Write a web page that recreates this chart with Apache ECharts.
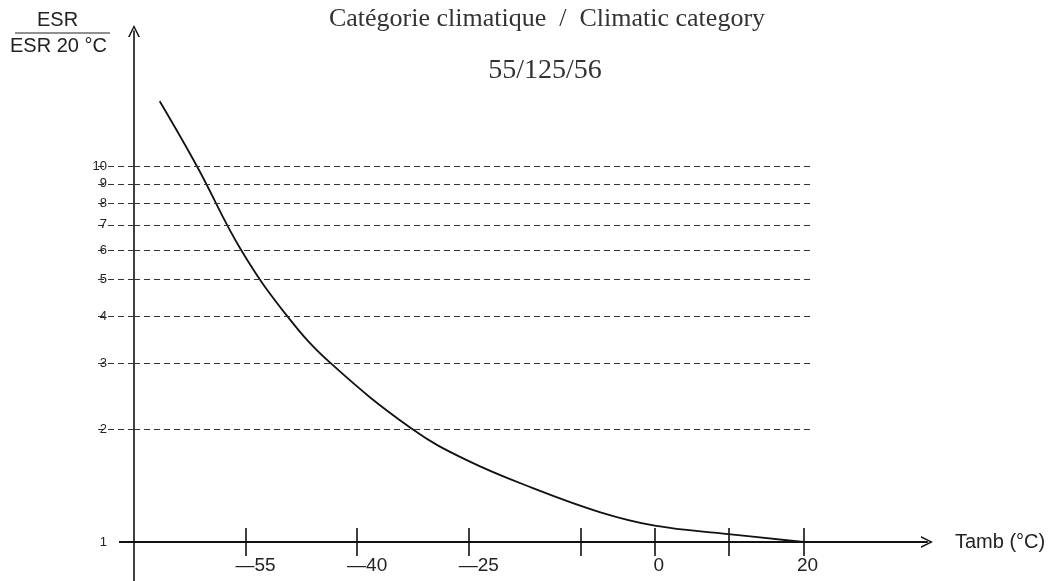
<!DOCTYPE html>
<html>
<head>
<meta charset="utf-8">
<script src="https://cdn.jsdelivr.net/npm/echarts@6/dist/echarts.min.js"></script>
<style>
  html, body { margin: 0; background: #fff; }
  #chart { width: 1057px; height: 581px; }
</style>
</head>
<body>
<div id="chart"></div>
<script>
  // curve: ambient temperature (°C) -> ESR / ESR 20 °C
  const temps = [-66.5, -61.5, -55.6, -49.4, -43.6, -32.6, -25.2, -16.3, -7.3, 0, 9.9, 20]
  const ratios = [14.9, 10, 6, 4, 3, 2, 1.65, 1.39, 1.2, 1.106, 1.05, 1.0]
  const levels = [2, 3, 4, 5, 6, 7, 8, 9, 10]
  const yLabels = [1, 2, 3, 4, 5, 6, 7, 8, 9, 10]
  const xTicks = [-55, -40, -25, -10, 0, 10, 20]
  const xLabels = [-55, -40, -25, 0, 20]

  const xMin = -70
  const xMax = 36.6
  const yMin = 1
  const yMax = 23
  const levelEnd = 20.9

  const ink = '#111'
  const arrow = 'path://M0,10 L5,0 L10,10 L8.6,10 L5,2.6 L1.4,10 Z'

  const chart = echarts.init(document.getElementById('chart'))

  const option = {
    animation: false,
    title: [
      {
        text: 'Catégorie climatique  /  Climatic category',
        left: 542,
        top: 1,
        textAlign: 'center',
        textStyle: { fontFamily: 'Liberation Serif', fontSize: 26, fontWeight: 'normal', color: '#333' }
      },
      {
        text: '55/125/56',
        left: 540,
        top: 52,
        textAlign: 'center',
        textStyle: { fontFamily: 'Liberation Serif', fontSize: 28, fontWeight: 'normal', color: '#333' }
      }
    ],
    grid: { left: 134, right: 130, top: 31, bottom: 39, containLabel: false },
    xAxis: [
      {
        type: 'value',
        position: 'bottom',
        min: xMin,
        max: xMax,
        name: 'Tamb (°C)',
        nameLocation: 'end',
        nameGap: 28,
        nameTextStyle: { fontFamily: 'Liberation Sans', fontSize: 20, color: '#222', padding: [48, 0, 0, 0] },
        axisLine: { show: true, onZero: false, symbol: ['none', arrow], symbolSize: [14, 12], lineStyle: { color: ink, width: 2 } },
        axisTick: { show: true, customValues: xTicks, length: 14, lineStyle: { color: ink, width: 1.6 } },
        axisLabel: {
          customValues: xLabels,
          margin: 14,
          fontFamily: 'Liberation Sans',
          fontSize: 19,
          color: '#222',
          formatter: function (v) {
            return v < 0 ? '{n|\u2014' + Math.abs(v) + '}' : '{p|' + v + '}'
          },
          rich: {
            n: { fontFamily: 'Liberation Sans', fontSize: 19, color: '#222', padding: [0, 0, 0, 20] },
            p: { fontFamily: 'Liberation Sans', fontSize: 19, color: '#222', padding: [0, 0, 0, 8] }
          }
        },
        splitLine: { show: false }
      },
      {
        type: 'value',
        position: 'bottom',
        min: xMin,
        max: xMax,
        axisLine: { show: false, onZero: false },
        axisTick: { show: true, inside: true, customValues: xTicks, length: 14, lineStyle: { color: ink, width: 1.6 } },
        axisLabel: { show: false },
        splitLine: { show: false }
      }
    ],
    yAxis: [
      {
        type: 'log',
        position: 'left',
        min: yMin,
        max: yMax,
        axisLine: { show: true, onZero: false, symbol: ['none', arrow], symbolSize: [14, 12], lineStyle: { color: ink, width: 1.6 } },
        axisTick: { show: true, customValues: levels, length: 40, lineStyle: { color: '#333', width: 1.1, type: [6, 4] } },
        axisLabel: {
          customValues: yLabels,
          margin: 27,
          fontFamily: 'Liberation Sans',
          fontSize: 13,
          color: '#222'
        },
        splitLine: { show: false }
      },
      {
        type: 'log',
        position: 'left',
        min: yMin,
        max: yMax,
        axisLine: { show: false, onZero: false },
        axisTick: { show: true, customValues: [1], length: 15, lineStyle: { color: ink, width: 2 } },
        axisLabel: { show: false },
        splitLine: { show: false }
      }
    ],
    series: [
      {
        type: 'line',
        data: temps.map((t, i) => [t, ratios[i]]),
        smooth: 0.4,
        symbol: 'none',
        clip: false,
        lineStyle: { color: ink, width: 1.8, cap: 'round' },
        markLine: {
          silent: true,
          symbol: ['none', 'none'],
          label: { show: false },
          lineStyle: { color: '#333', width: 1.1, type: [6, 4] },
          data: levels.map(v => [{ coord: [xMin, v] }, { coord: [levelEnd, v] }])
        }
      }
    ]
  }

  chart.setOption(option)

  // axis lines run past the origin, and the stacked y-axis name
  const origin = chart.convertToPixel({ gridIndex: 0 }, [xMin, yMin])
  chart.setOption({
    graphic: [
      { type: 'line', shape: { x1: origin[0], y1: origin[1], x2: origin[0], y2: 581 }, style: { stroke: ink, lineWidth: 1.6 } },
      { type: 'text', left: 37, top: 10, style: { text: 'ESR', fontFamily: 'Liberation Sans', fontSize: 20, fill: '#222' } },
      { type: 'line', shape: { x1: 15, y1: 33, x2: 110, y2: 33 }, style: { stroke: '#222', lineWidth: 1.2 } },
      { type: 'text', left: 10, top: 36, style: { text: 'ESR 20 °C', fontFamily: 'Liberation Sans', fontSize: 20, fill: '#222' } }
    ]
  })
</script>
</body>
</html>
